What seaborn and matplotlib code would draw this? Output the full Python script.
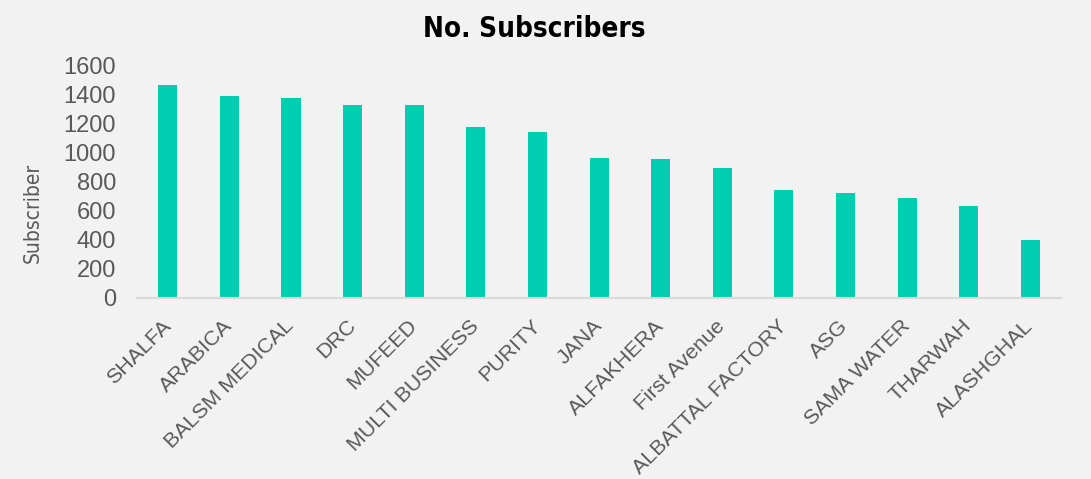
import pandas as pd
import matplotlib
matplotlib.use("Agg")
import matplotlib.pyplot as plt
import seaborn as sns

# data
companies = ["SHALFA", "ARABICA", "BALSM MEDICAL", "DRC", "MUFEED", "MULTI BUSINESS",
             "PURITY", "JANA", "ALFAKHERA", "First Avenue", "ALBATTAL FACTORY", "ASG",
             "SAMA WATER", "THARWAH", "ALASHGHAL"]
subscribers = [1468, 1388, 1375, 1330, 1327, 1178, 1140, 965, 960, 896, 745, 720, 690, 635, 400]
y_ticks = [0, 200, 400, 600, 800, 1000, 1200, 1400, 1600]

df = pd.DataFrame({"Company": companies, "Subscriber": subscribers})

sns.set_theme(style="white")
plt.rcParams["font.family"] = ["Liberation Sans", "DejaVu Sans"]

bg = "#F2F2F2"
grey = "#595959"

fig = plt.figure(figsize=(10.91, 4.79), dpi=100, facecolor=bg)
ax = fig.add_axes([0.1256, 0.378, 0.847, 0.485])
ax.set_facecolor(bg)

sns.barplot(data=df, x="Company", y="Subscriber", color="#00CEB0", width=0.31,
            saturation=1, ax=ax, order=companies, linewidth=0)

ax.set_ylim(0, 1600)
ax.set_xlim(-0.5, len(companies) - 0.5)
ax.set_yticks(y_ticks)
ax.tick_params(axis="y", labelsize=17, labelcolor=grey, length=0, pad=15)
ax.tick_params(axis="x", labelsize=15.4, labelcolor=grey, length=0, pad=18)
plt.setp(ax.get_xticklabels(), rotation=45, ha="right", va="center", rotation_mode="anchor")

for s in ["top", "right", "left"]:
    ax.spines[s].set_visible(False)
ax.spines["bottom"].set_color("#D9D9D9")
ax.spines["bottom"].set_linewidth(1.5)

ax.set_xlabel("")
ax.set_ylabel("Subscriber", fontsize=15, color=grey, family="DejaVu Sans", stretch="condensed")
ax.yaxis.set_label_coords(-0.102, 0.365)

fig.suptitle("No. Subscribers", x=0.49, y=0.968, fontsize=20, fontweight="bold",
             family="DejaVu Sans", stretch="condensed", color="black")

plt.savefig("out.png", dpi=100, facecolor=bg)
